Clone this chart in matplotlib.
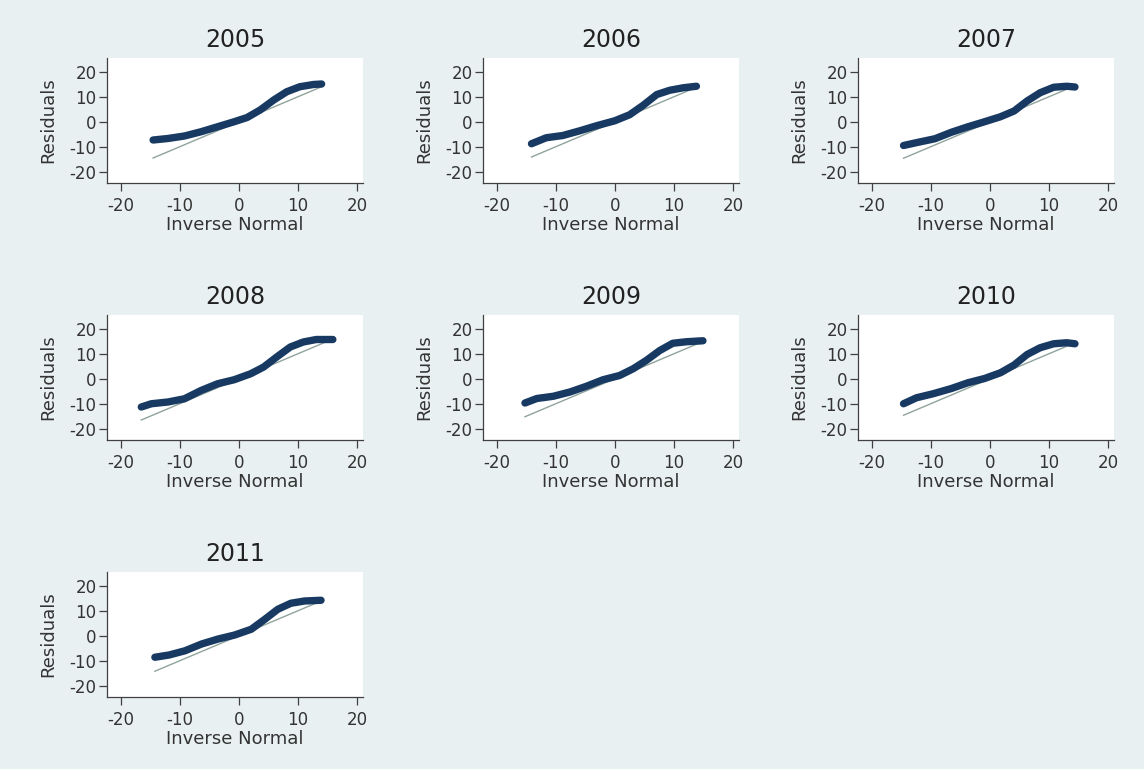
import matplotlib
matplotlib.use("Agg")
import matplotlib.pyplot as plt

plt.rcParams['font.family'] = ['DejaVu Sans']
plt.rcParams['axes.unicode_minus'] = False

# Panel titles
years = ["2005", "2006", "2007", "2008", "2009", "2010", "2011"]

# Inverse-normal quantiles (x) and residual quantiles (y), one pair per year
x_2005 = [-14.5, -12.0, -9.2, -6.4, -3.6, -0.8, 1.4, 3.6, 5.9, 8.1, 10.3, 12.6, 14.0]
y_2005 = [-7.3, -6.7, -5.7, -4.0, -2.0, 0.0, 1.7, 4.7, 8.7, 12.0, 14.0, 14.9, 15.1]

x_2006 = [-14.1, -11.6, -8.8, -5.9, -3.1, 0.0, 2.5, 4.8, 7.1, 9.3, 11.6, 13.8]
y_2006 = [-8.8, -6.4, -5.5, -3.6, -1.6, 0.4, 2.8, 6.6, 10.9, 12.6, 13.6, 14.2]

x_2007 = [-14.6, -12.1, -9.3, -6.5, -3.7, -0.9, 1.8, 4.1, 6.3, 8.5, 10.8, 13.0, 14.4]
y_2007 = [-9.5, -8.2, -6.8, -4.2, -2.0, 0.0, 2.0, 4.3, 8.3, 11.6, 13.8, 14.2, 13.9]

x_2008 = [-16.5, -14.8, -12.0, -9.2, -6.4, -3.6, -0.8, 2.0, 4.2, 6.4, 8.7, 10.9, 13.1, 15.9]
y_2008 = [-11.3, -10.0, -9.3, -8.0, -4.7, -2.0, -0.4, 2.0, 4.7, 8.7, 12.7, 14.7, 15.7, 15.7]

x_2009 = [-15.2, -13.2, -10.4, -7.6, -4.8, -2.0, 0.8, 3.1, 5.3, 7.6, 9.8, 12.1, 14.9]
y_2009 = [-9.7, -7.9, -7.0, -5.3, -3.0, -0.4, 1.3, 4.0, 7.3, 11.3, 14.2, 14.8, 15.2]

x_2010 = [-14.6, -12.4, -9.6, -6.5, -3.7, -0.9, 1.8, 4.1, 6.3, 8.5, 10.8, 13.0, 14.4]
y_2010 = [-10.0, -7.6, -6.0, -3.9, -1.6, 0.1, 2.4, 5.5, 9.7, 12.4, 14.0, 14.4, 14.0]

x_2011 = [-14.2, -11.8, -9.1, -6.3, -3.5, -0.7, 2.1, 4.4, 6.6, 8.8, 11.1, 13.9]
y_2011 = [-8.6, -7.7, -6.0, -3.3, -1.3, 0.3, 2.6, 6.6, 10.6, 13.0, 13.9, 14.2]

xs = [x_2005, x_2006, x_2007, x_2008, x_2009, x_2010, x_2011]
ys = [y_2005, y_2006, y_2007, y_2008, y_2009, y_2010, y_2011]

ticks = [-20, -10, 0, 10, 20]

W, H = 1144, 769
BG = "#e9f0f2"
NAVY = "#183a62"
REF = "#8fa39c"
AXC = "#404040"

fig = plt.figure(figsize=(W / 100, H / 100), dpi=100)
fig.patch.set_facecolor(BG)

col_left = [107, 483, 858]
row_top = [58, 315, 572]
pw, ph = 256, 125

for i, (yr, xv, yv) in enumerate(zip(years, xs, ys)):
    r, c = divmod(i, 3)
    left = col_left[c] / W
    bottom = (H - row_top[r] - ph) / H
    ax = fig.add_axes([left, bottom, pw / W, ph / H])
    ax.set_facecolor("white")

    # 45-degree reference line over the range of the normal quantiles
    ax.plot([xv[0], xv[-1]], [xv[0], xv[-1]], color=REF, lw=1.0, zorder=2)
    # quantile points, drawn as a dense band
    ax.plot(xv, yv, color=NAVY, lw=5.3, solid_capstyle="round",
            solid_joinstyle="round", zorder=3)

    ax.set_xlim(-22.3, 21.0)
    ax.set_ylim(-24.5, 25.5)
    ax.set_xticks(ticks)
    ax.set_yticks(ticks)
    for s in ("top", "right"):
        ax.spines[s].set_visible(False)
    for s in ("left", "bottom"):
        ax.spines[s].set_color(AXC)
        ax.spines[s].set_linewidth(0.9)
    ax.tick_params(direction="out", length=6, width=0.9, color=AXC,
                   labelsize=12, labelcolor="#333333")
    ax.tick_params(axis="x", pad=4)
    ax.tick_params(axis="y", pad=1.5)
    ax.set_title(yr, fontsize=17, color="#222222", pad=8)
    ax.set_xlabel("Inverse Normal", fontsize=13, color="#333333", labelpad=1)
    ax.set_ylabel("Residuals", fontsize=13, color="#333333", labelpad=9)

fig.savefig("out.png", dpi=100, facecolor=BG)
